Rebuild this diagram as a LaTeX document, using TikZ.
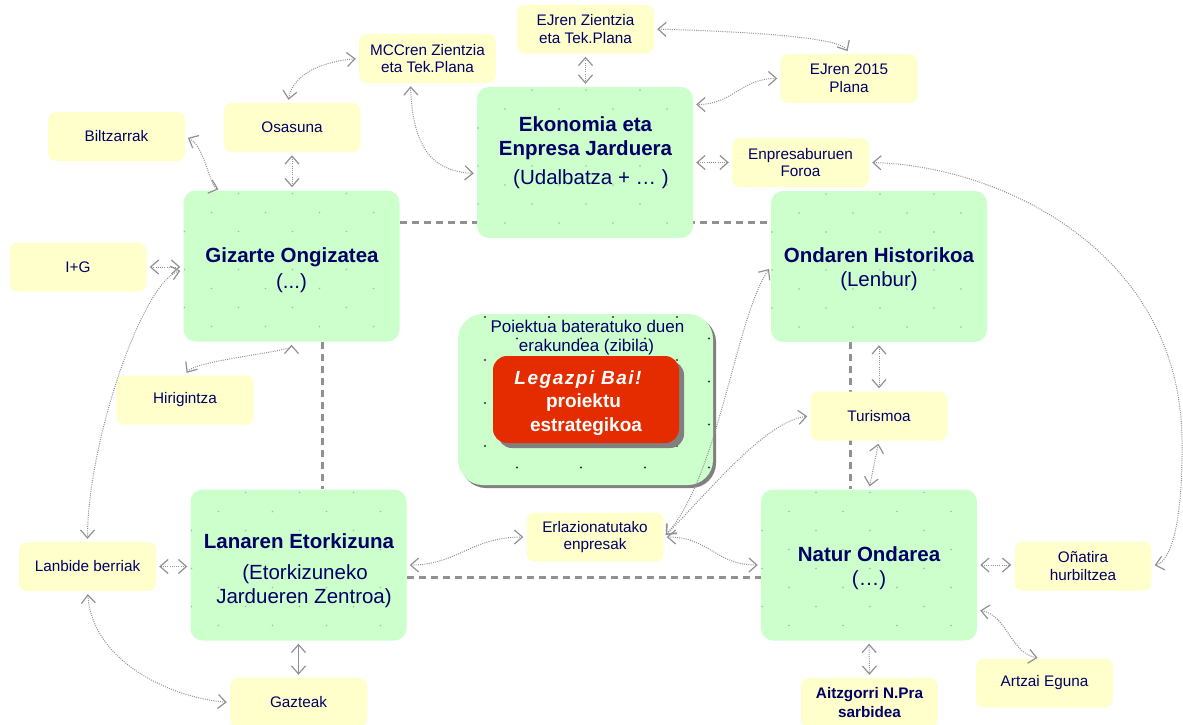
\documentclass[tikz,border=0pt]{standalone}
\usepackage{fontspec}
\setmainfont{Liberation Sans}
\usetikzlibrary{arrows.meta,calc,shadows,backgrounds}
\definecolor{gfill}{RGB}{204,255,204}
\definecolor{yfill}{RGB}{255,255,204}
\definecolor{redc}{RGB}{228,44,0}
\definecolor{navy}{RGB}{0,0,102}
\definecolor{connc}{RGB}{145,145,145}
\definecolor{dotc}{RGB}{160,190,160}
\definecolor{dashc}{RGB}{145,145,145}
\definecolor{shadc}{RGB}{128,128,128}
\begin{document}
\begin{tikzpicture}[x=1pt,y=-1pt,
  >={Straight Barb[length=8pt,width=14pt,line width=1.2pt]},
  ybox/.style={fill=yfill, rounded corners=8pt, minimum width=137pt, minimum height=49pt, inner sep=0pt, align=center, text=navy, font=\fontsize{15.3}{17.7}\selectfont},
  yboxb/.style={ybox, font=\bfseries\fontsize{15.3}{18.5}\selectfont},
  gdots/.style={path picture={
    \foreach \a in {0,...,4}{\foreach \b in {0,...,4}{
      \fill[dotc] ($(path picture bounding box.north west)+(1+54*\a,3+38*\b)$) circle (0.9pt);
      \fill[dotc] ($(path picture bounding box.north west)+(28+54*\a,22+38*\b)$) circle (0.9pt);
    }}}},
  pdots/.style={path picture={
    \foreach \a in {0,...,3}{\foreach \b in {0,...,3}{
      \fill[black!80] ($(path picture bounding box.north west)+(27+64*\a,3+43*\b)$) circle (1.1pt);
      \fill[black!80] ($(path picture bounding box.north west)+(59+64*\a,24.5+43*\b)$) circle (1.1pt);
    }}}},
  gbox/.style={fill=gfill, rounded corners=12pt, minimum width=216pt, minimum height=151pt, inner sep=0pt, gdots},
  gtitle/.style={anchor=base, text=navy, inner sep=0pt, font=\bfseries\fontsize{20.5}{24}\selectfont},
  gsub/.style={anchor=base, text=navy, inner sep=0pt, font=\fontsize{20.5}{24}\selectfont},
  rtext/.style={anchor=base, text=white, inner sep=0pt, font=\bfseries\fontsize{19}{23}\selectfont},
  ptext/.style={anchor=base, text=navy, inner sep=0pt, font=\fontsize{17}{19}\selectfont},
  dashline/.style={draw=dashc, line width=3pt, dash pattern=on 7pt off 5pt},
  conn/.style={draw=connc, line width=1pt, dash pattern=on 1pt off 1.2pt, <->, shorten <=3pt, shorten >=3pt},
  sconn/.style={draw=connc, line width=1.2pt, <->, shorten <=3pt, shorten >=3pt}
]
\useasboundingbox (0,0) rectangle (1183,724);

% green boxes
\node[gbox] (ekon) at (585,162.5) {};
\node[gbox] (giz) at (291.5,266) {};
\node[gbox] (ond) at (879,266.5) {};
\node[gbox] (lan) at (298.5,565) {};
\node[gbox] (nat) at (869,565) {};

% green box texts
\node[gtitle] (ekt1) at (585.5,131.5) {Ekonomia eta};
\node[gtitle] (ekt2) at (585.5,155.5) {Enpresa Jarduera};
\node[gsub] (eks) at (591,184) {(Udalbatza + … )};
\node[gtitle] (gizt) at (292,262) {Gizarte Ongizatea};
\node[gsub] (gizs) at (291.5,288) {(...)};
\node[gtitle] (ondt) at (879,262) {Ondaren Historikoa};
\node[gsub] (onds) at (879,286) {(Lenbur)};
\node[gtitle] (lant) at (299,548) {Lanaren Etorkizuna};
\node[gsub] (lans1) at (305,579) {(Etorkizuneko};
\node[gsub] (lans2) at (304,603) {Jardueren Zentroa)};
\node[gtitle] (natt) at (869,561) {Natur Ondarea};
\node[gsub] (nats) at (869,585) {(…)};

% central project box
\node[fill=gfill, rounded corners=25pt, minimum width=255pt, minimum height=171pt, inner sep=0pt,
      drop shadow={shadow xshift=3pt,shadow yshift=-3pt,fill=shadc,opacity=1}, pdots] (pbox) at (585.5,399.5) {};
\node[ptext] (pt1) at (587.5,332) {Poiektua bateratuko duen};
\node[ptext] (pt2) at (586.5,351) {erakundea (zibila)};
\node[fill=redc, rounded corners=14pt, minimum width=186pt, minimum height=87pt, inner sep=0pt,
      drop shadow={shadow xshift=5pt,shadow yshift=-5pt,fill=shadc,opacity=1}] (redb) at (586,399.5) {};
\node[rtext, font=\bfseries\itshape\fontsize{19}{23}\selectfont\addfontfeatures{LetterSpace=8}] (rt1) at (578,384) {Legazpi Bai!};
\node[rtext] (rt2) at (583.5,407) {proiektu};
\node[rtext] (rt3) at (586,431) {estrategikoa};

% yellow boxes
\node[ybox] (ejz) at (585.5,29) {EJren Zientzia\\eta Tek.Plana};
\node[ybox] (mcc) at (427.5,58.5) {MCCren Zientzia\\eta Tek.Plana};
\node[ybox] (ej15) at (849,78.5) {EJren 2015\\Plana};
\node[ybox] (enp) at (800.5,162.5) {Enpresaburuen\\Foroa};
\node[ybox] (osa) at (292,127.5) {Osasuna};
\node[ybox] (bilt) at (116.5,136.5) {Biltzarrak};
\node[ybox] (ig) at (78,267) {I+G};
\node[ybox] (hir) at (185,400) {Hirigintza};
\node[ybox] (tur) at (879,416) {Turismoa};
\node[ybox] (erl) at (595,537) {Erlazionatutako\\enpresak};
\node[ybox] (lanb) at (87.5,566.5) {Lanbide berriak};
\node[ybox] (ona) at (1083,566) {Oñatira\\hurbiltzea};
\node[ybox] (gaz) at (298.5,702.5) {Gazteak};
\node[yboxb] (aitz) at (869.5,702.5) {Aitzgorri N.Pra\\sarbidea};
\node[ybox] (artz) at (1044.5,683) {Artzai Eguna};

\coordinate (rbend) at (1182,440);

% dashed frame behind the boxes
\begin{scope}[on background layer]
\draw[dashline] ([yshift=44pt]giz.east) -- ([yshift=44.5pt]ond.west);
\draw[dashline] ([xshift=30.5pt]giz.south) -- ([xshift=23.5pt]lan.north);
\draw[dashline] ([xshift=-29pt]ond.south) -- ([xshift=-19pt]nat.north);
\draw[dashline] ([yshift=-12pt]lan.east) -- ([yshift=-12pt]nat.west);
\end{scope}

% connectors
\draw[conn] ([xshift=-4pt]osa.north) .. controls +(5,-30) and +(-35,3) .. (mcc.west);
\draw[conn] (osa.south) -- (osa.south |- giz.north);
\draw[conn] ([xshift=-17pt]mcc.south) .. controls +(2,70) and +(-40,-2) .. ([yshift=-11pt]ekon.west);
\draw[conn] (ejz.south) -- (ejz.south |- ekon.north);
\draw[conn] (ejz.east) .. controls +(105,3) and +(-9,-16) .. (ej15.north);
\draw[conn] (ej15.west) .. controls +(-40,0) and +(40,0) .. ([yshift=58pt]ekon.east);
\draw[conn] (ekon.east) -- (enp.west);
\draw[conn] (enp.east) .. controls +(130,3) and +(-2,-190) .. (rbend) .. controls +(1,80) and +(20,-5) .. (ona.east);
\draw[conn] (bilt.east) .. controls +(20,10) and +(-12,-4) .. ([xshift=38pt]giz.north west);
\draw[conn] (ig.east) -- (ig.east -| giz.west);
\draw[conn] ([yshift=-4pt]giz.west) .. controls +(-40,10) and +(0,-100) .. (lanb.north);
\draw[conn] (hir.north) .. controls +(10,-15) and +(0,10) .. (giz.south);
\draw[conn] (lanb.east) -- (lanb.east -| lan.west);
\draw[conn] (lanb.south) .. controls +(5,70) and +(-60,-5) .. (gaz.west);
\draw[sconn] (lan.south) -- (gaz.north);
\draw[conn] (lan.east) .. controls +(50,0) and +(-55,0) .. (erl.west);
\draw[conn] (erl.east) .. controls +(45,0) and +(-45,0) .. (nat.west);
\draw[conn] (erl.east) .. controls +(55,-60) and +(-35,50) .. (ond.west);
\draw[conn] (erl.east) .. controls +(45,-45) and +(-45,5) .. (tur.west);
\draw[conn] (ond.south) -- (tur.north);
\draw[conn] (tur.south) -- (nat.north);
\draw[conn] (nat.east) -- (nat.east -| ona.west);
\draw[conn] ([yshift=-45pt]nat.east) .. controls +(30,5) and +(-30,-5) .. ([xshift=-4pt]artz.north);
\draw[conn] (nat.south) -- (aitz.north);
\end{tikzpicture}
\end{document}
